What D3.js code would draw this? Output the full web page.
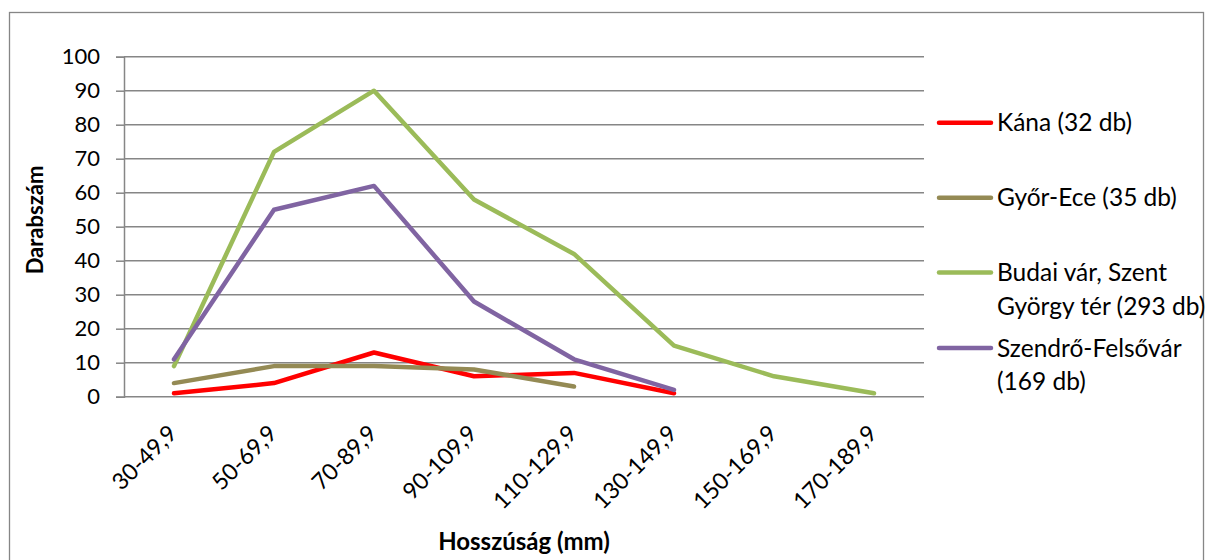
<!DOCTYPE html>
<html>
<head>
<meta charset="utf-8">
<script src="https://cdn.jsdelivr.net/npm/d3@7"></script>
<style>
  html, body { margin: 0; padding: 0; background: #fff; }
  svg { display: block; font-family: Lato, "Open Sans", sans-serif; }
</style>
</head>
<body>
<svg id="chart" width="1206" height="560"></svg>
<script>
// Length classes (mm)
const categories = ["30-49,9", "50-69,9", "70-89,9", "90-109,9", "110-129,9", "130-149,9", "150-169,9", "170-189,9"];

// Counts per length class for each site
const kana     = [1, 4, 13, 6, 7, 1];
const gyorEce  = [4, 9, 9, 8, 3];
const budai    = [9, 72, 90, 58, 42, 15, 6, 1];
const szendro  = [11, 55, 62, 28, 11, 2];

const seriesNames = ["Kána (32 db)", "Győr-Ece (35 db)", "Budai vár, Szent György tér (293 db)", "Szendrő-Felsővár (169 db)"];
const seriesColors = ["#FF0000", "#948A54", "#9BBB59", "#8064A2"];
const yTicks = [0, 10, 20, 30, 40, 50, 60, 70, 80, 90, 100];

const series = [kana, gyorEce, budai, szendro].map((values, i) => ({
  name: seriesNames[i],
  color: seriesColors[i],
  values: values.map((v, j) => ({ cat: categories[j], v }))
}));

const svg = d3.select("#chart");
const plot = { left: 124, right: 924, top: 56.7, bottom: 396.7 };

const x = d3.scalePoint().domain(categories).range([plot.left, plot.right]).padding(0.5);
const y = d3.scaleLinear().domain([0, 100]).range([plot.bottom, plot.top]);

// Outer chart frame
svg.append("rect")
  .attr("x", 9.5).attr("y", 12.5)
  .attr("width", 1194).attr("height", 600)
  .attr("fill", "none").attr("stroke", "#868686").attr("stroke-width", 1.3);

// Horizontal gridlines + y axis
const yAxis = d3.axisLeft(y).tickValues(yTicks).tickSize(8).tickPadding(16);
const gy = svg.append("g").attr("transform", `translate(${plot.left},0)`).call(yAxis);
gy.select(".domain").attr("stroke", "#868686").attr("stroke-width", 1.5);
gy.selectAll(".tick line").attr("stroke", "#868686").attr("stroke-width", 1.5);
gy.selectAll(".tick text")
  .attr("font-family", "Lato, sans-serif")
  .attr("font-size", 22).attr("fill", "#000");

svg.append("g").selectAll("line").data(yTicks).join("line")
  .attr("x1", plot.left).attr("x2", plot.right)
  .attr("y1", d => y(d)).attr("y2", d => y(d))
  .attr("stroke", "#868686").attr("stroke-width", 1.5);

// Category labels, rotated
const gx = svg.append("g").attr("transform", `translate(0,${plot.bottom})`)
  .call(d3.axisBottom(x).tickSize(0).tickPadding(0));
gx.select(".domain").remove();
gx.selectAll(".tick text")
  .attr("font-family", "Lato, sans-serif")
  .attr("font-size", 23).attr("fill", "#000")
  .attr("text-anchor", "end")
  .attr("dy", 0)
  .attr("transform", "translate(4,38) rotate(-45)");

// Series lines
const line = d3.line().x(d => x(d.cat)).y(d => y(d.v));
svg.append("g").selectAll("path").data(series).join("path")
  .attr("d", d => line(d.values))
  .attr("fill", "none")
  .attr("stroke", d => d.color)
  .attr("stroke-width", 4.5)
  .attr("stroke-linecap", "round")
  .attr("stroke-linejoin", "round");

// Axis titles
svg.append("text")
  .attr("x", 524).attr("y", 550)
  .attr("text-anchor", "middle")
  .attr("font-family", "Lato, sans-serif")
  .attr("font-weight", "bold").attr("font-size", 24)
  .text("Hosszúság (mm)");

svg.append("text")
  .attr("transform", "translate(43,220) rotate(-90)")
  .attr("text-anchor", "middle")
  .attr("font-family", "Lato, sans-serif")
  .attr("font-weight", "bold").attr("font-size", 22)
  .text("Darabszám");

// Legend
const legendRows = [
  { y: 122.7, lines: ["Kána (32 db)"] },
  { y: 197.7, lines: ["Győr-Ece (35 db)"] },
  { y: 272.5, lines: ["Budai vár, Szent", "György tér (293 db)"] },
  { y: 348, lines: ["Szendrő-Felsővár", "(169 db)"] }
];
const legend = svg.append("g");
legendRows.forEach((row, i) => {
  legend.append("line")
    .attr("x1", 939).attr("x2", 991)
    .attr("y1", row.y).attr("y2", row.y)
    .attr("stroke", seriesColors[i]).attr("stroke-width", 4.5)
    .attr("stroke-linecap", "round");
  row.lines.forEach((t, k) => {
    legend.append("text")
      .attr("x", 997).attr("y", row.y + 8.5 + k * 33.5)
      .attr("font-family", "Lato, sans-serif")
      .attr("font-size", 24.5).attr("fill", "#000")
      .text(t);
  });
});
</script>
</body>
</html>
